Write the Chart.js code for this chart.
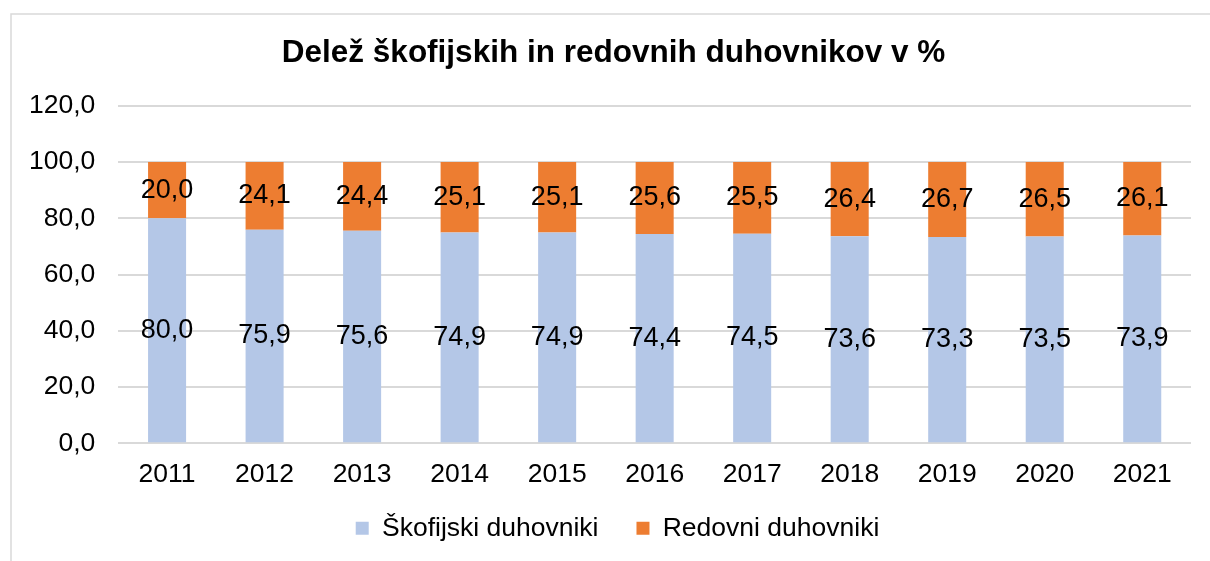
<!DOCTYPE html>
<html>
<head>
<meta charset="utf-8">
<script src="https://cdn.jsdelivr.net/npm/chart.js@4"></script>
<style>
  html, body { margin: 0; padding: 0; background: #fff; overflow: hidden; }
  #wrap { position: relative; width: 1210px; height: 561px; }
</style>
</head>
<body>
<div id="wrap"><canvas id="graf"></canvas></div>
<script>
const leta = ['2011','2012','2013','2014','2015','2016','2017','2018','2019','2020','2021'];
const skofijski = [80.0, 75.9, 75.6, 74.9, 74.9, 74.4, 74.5, 73.6, 73.3, 73.5, 73.9];
const redovni = [20.0, 24.1, 24.4, 25.1, 25.1, 25.6, 25.5, 26.4, 26.7, 26.5, 26.1];

const pisava = '"Liberation Sans", Arial, sans-serif';
const vejica = v => Number(v).toFixed(1).replace('.', ',');

// okvir okoli grafa
const okvir = {
    id: 'okvir',
    beforeDraw(chart) {
        const c = chart.ctx;
        c.save();
        c.fillStyle = '#fff';
        c.fillRect(0, 0, chart.width, chart.height);
        c.strokeStyle = '#d9d9d9';
        c.lineWidth = 1.5;
        c.strokeRect(11, 14, chart.width + 20, chart.height + 20);
        c.restore();
    }
};

// legenda in naslov malo premaknjena, kot v Excelu
const premik = {
    id: 'premik',
    afterLayout(chart) {
        const lg = chart.legend;
        if (lg) {
            lg.top = 477;
            lg.bottom = chart.height;
            lg.left += 19; lg.right += 19;
        }
        const t = chart.titleBlock;
        if (t) { t.left += 15; t.right += 15; }
    }
};

// vrednosti na sredini stolpcev
const oznake = {
    id: 'oznake',
    afterDatasetsDraw(chart) {
        const c = chart.ctx;
        c.save();
        c.font = '27px ' + pisava;
        c.fillStyle = '#000';
        c.textAlign = 'center';
        c.textBaseline = 'middle';
        chart.data.datasets.forEach((ds, i) => {
            chart.getDatasetMeta(i).data.forEach((bar, j) => {
                c.fillText(vejica(ds.data[j]), bar.x, (bar.y + bar.base) / 2);
            });
        });
        c.restore();
    }
};

new Chart(document.getElementById('graf'), {
    type: 'bar',
    plugins: [okvir, premik, oznake],
    data: {
        labels: leta,
        datasets: [{
            label: 'Škofijski duhovniki',
            data: skofijski,
            backgroundColor: '#B4C7E7',
            categoryPercentage: 1,
            barPercentage: 0.39,
        }, {
            label: 'Redovni duhovniki',
            data: redovni,
            backgroundColor: '#ED7D31',
            categoryPercentage: 1,
            barPercentage: 0.39,
        }]
    },
    options: {
        responsive: true,
        maintainAspectRatio: false,
        animation: false,
        layout: { padding: { left: 6, right: 19, top: 18, bottom: 4 } },
        plugins: {
            title: {
                display: true,
                text: 'Delež škofijskih in redovnih duhovnikov v %',
                color: '#000',
                font: { family: pisava, size: 31.5, weight: 'bold' },
                padding: { top: 16, bottom: 34 },
            },
            legend: {
                position: 'bottom',
                maxHeight: 50,
                labels: {
                    color: '#000',
                    font: { family: pisava, size: 26.5 },
                    boxWidth: 13,
                    boxHeight: 13,
                    padding: 38,
                },
            },
            tooltip: { enabled: false },
        },
        scales: {
            x: {
                stacked: true,
                grid: { display: false, drawTicks: false },
                border: { display: false },
                ticks: { color: '#000', font: { family: pisava, size: 26.5 }, padding: 16, maxRotation: 0 },
            },
            y: {
                stacked: true,
                min: 0,
                max: 120,
                ticks: {
                    stepSize: 20,
                    color: '#000',
                    font: { family: pisava, size: 26.5 },
                    padding: 23,
                    callback: v => vejica(v),
                },
                grid: { color: '#d9d9d9', lineWidth: 2, drawTicks: false },
                border: { display: false },
            },
        },
    },
});
</script>
</body>
</html>
